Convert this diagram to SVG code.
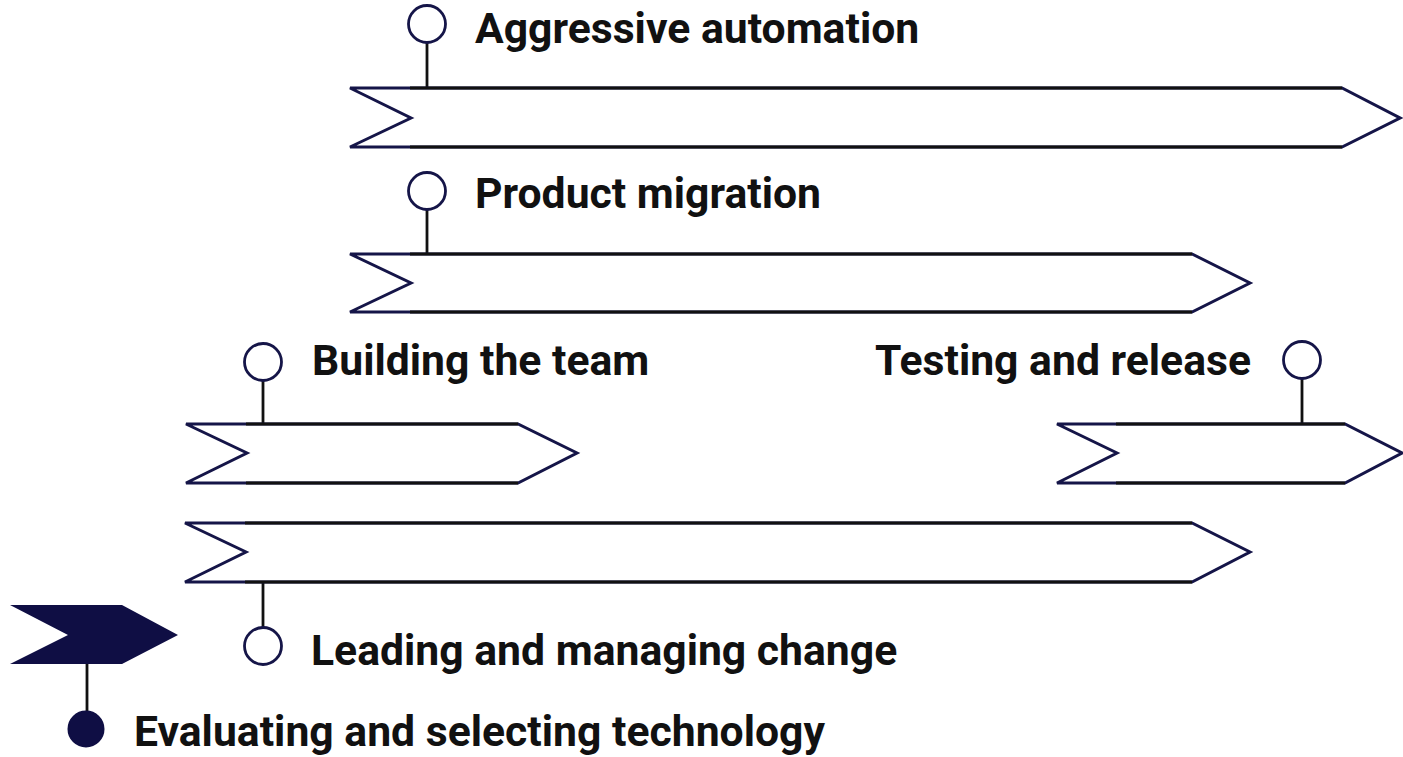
<svg xmlns="http://www.w3.org/2000/svg" width="1403" height="757" viewBox="0 0 1403 757">
<style>
.lbl{font-family:Roboto,"Liberation Sans",sans-serif;font-weight:700;font-size:42.7px;fill:#111111}
.chev{fill:#ffffff;stroke:#151548;stroke-width:3;stroke-linejoin:miter}
.edge{stroke:#111111;stroke-width:3;fill:none}
.stem{stroke:#111111;stroke-width:2.8;fill:none}
.pin{fill:#ffffff;stroke:#151548;stroke-width:2.8}
.pinf{fill:#0f0e44;stroke:#0f0e44;stroke-width:2}
</style>
<rect width="1403" height="757" fill="#ffffff"/>
<g id="connectors">
<line class="stem" x1="427" y1="43" x2="427" y2="88"/>
<line class="stem" x1="427" y1="209" x2="427" y2="254"/>
<line class="stem" x1="263" y1="381" x2="263" y2="424"/>
<line class="stem" x1="1302" y1="379" x2="1302" y2="424"/>
<line class="stem" x1="263" y1="582" x2="263" y2="627"/>
<line class="stem" x1="87" y1="664" x2="87" y2="712"/>
</g>
<g id="aggressive-automation">
<polygon class="chev" points="350,88 1342,88 1400,118 1342,147 350,147 411,118"/>
<line class="edge" x1="410" y1="88" x2="1342" y2="88"/>
<line class="edge" x1="410" y1="147" x2="1342" y2="147"/>
<circle class="pin" cx="427" cy="24" r="18.5"/>
<text class="lbl" x="475" y="43">Aggressive automation</text>
</g>
<g id="product-migration">
<polygon class="chev" points="350,254 1192,254 1250,283 1192,312 350,312 411,283"/>
<line class="edge" x1="410" y1="254" x2="1192" y2="254"/>
<line class="edge" x1="410" y1="312" x2="1192" y2="312"/>
<circle class="pin" cx="427" cy="191" r="18.5"/>
<text class="lbl" x="475" y="208">Product migration</text>
</g>
<g id="building-the-team">
<polygon class="chev" points="186,424 518,424 577,453 518,483 186,483 247,453"/>
<line class="edge" x1="246" y1="424" x2="518" y2="424"/>
<line class="edge" x1="246" y1="483" x2="518" y2="483"/>
<circle class="pin" cx="263" cy="362" r="18.5"/>
<text class="lbl" x="312" y="375">Building the team</text>
</g>
<g id="testing-and-release">
<polygon class="chev" points="1057,424 1345,424 1402,453 1345,483 1057,483 1117,453"/>
<line class="edge" x1="1116" y1="424" x2="1345" y2="424"/>
<line class="edge" x1="1116" y1="483" x2="1345" y2="483"/>
<circle class="pin" cx="1302" cy="360" r="18.5"/>
<text class="lbl" x="1251" y="375" text-anchor="end">Testing and release</text>
</g>
<g id="leading-and-managing-change">
<polygon class="chev" points="185,523 1192,523 1250,552 1192,582 185,582 246,552"/>
<line class="edge" x1="245" y1="523" x2="1192" y2="523"/>
<line class="edge" x1="245" y1="582" x2="1192" y2="582"/>
<circle class="pin" cx="263" cy="646" r="18.5"/>
<text class="lbl" x="311" y="665">Leading and managing change</text>
</g>
<g id="evaluating-and-selecting-technology">
<polygon fill="#0f0e44" points="10,605 122,605 178,635 122,664 10,664 68,635"/>
<circle class="pinf" cx="86" cy="729" r="17.5"/>
<text class="lbl" x="134" y="746">Evaluating and selecting technology</text>
</g>
</svg>
